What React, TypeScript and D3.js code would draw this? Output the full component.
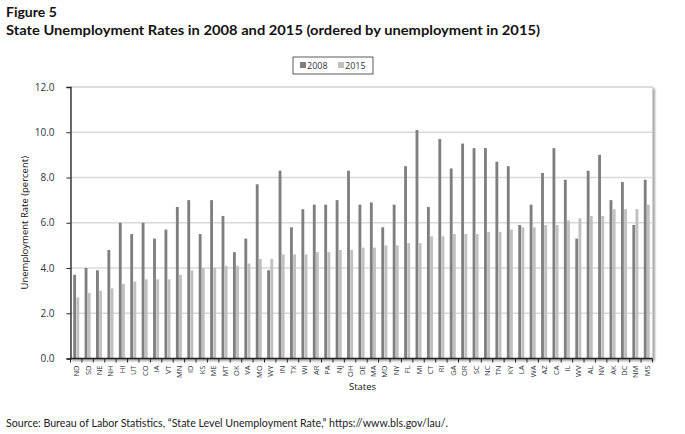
import { useRef, useEffect } from "react";
import * as d3 from "d3";

const states = ["ND","SD","NE","NH","HI","UT","CO","IA","VT","MN","ID","KS","ME","MT","OK","VA","MO","WY","IN","TX","WI","AR","PA","NJ","OH","DE","MA","MD","NY","FL","MI","CT","RI","GA","OR","SC","NC","TN","KY","LA","WA","AZ","CA","IL","WV","AL","NV","AK","DC","NM","MS"];

const rate2008 = [3.7,4.0,3.9,4.8,6.0,5.5,6.0,5.3,5.7,6.7,7.0,5.5,7.0,6.3,4.7,5.3,7.7,3.9,8.3,5.8,6.6,6.8,6.8,7.0,8.3,6.8,6.9,5.8,6.8,8.5,10.1,6.7,9.7,8.4,9.5,9.3,9.3,8.7,8.5,5.9,6.8,8.2,9.3,7.9,5.3,8.3,9.0,7.0,7.8,5.9,7.9];

const rate2015 = [2.7,2.9,3.0,3.1,3.3,3.4,3.5,3.5,3.5,3.7,3.9,4.0,4.0,4.1,4.1,4.2,4.4,4.4,4.6,4.6,4.6,4.7,4.7,4.8,4.8,4.9,4.9,5.0,5.0,5.1,5.1,5.4,5.4,5.5,5.5,5.5,5.6,5.6,5.7,5.8,5.8,5.9,5.9,6.1,6.2,6.3,6.3,6.6,6.6,6.6,6.8];

const series = ["2008", "2015"];
const colors = ["#7f7f7f", "#c0c0c0"];
const yTicks = [0, 2, 4, 6, 8, 10, 12];

export default function App() {
  const ref = useRef<SVGSVGElement>(null);

  useEffect(() => {
    if (!ref.current) return;
    const svg = d3.select(ref.current);
    svg.selectAll("*").remove();

    const W = 685, H = 434;
    const left = 70.5, right = 652.5, top = 87, bottom = 358.5;
    const font = "'Open Sans', sans-serif";
    const textColor = "#2e3440";

    svg.append("rect").attr("width", W).attr("height", H).attr("fill", "#fff");

    // titles
    svg.append("text").attr("x", 6).attr("y", 17).attr("font-family", "Lato, sans-serif")
      .attr("font-weight", 700).attr("font-size", 14).attr("fill", "#111").text("Figure 5");
    svg.append("text").attr("x", 6).attr("y", 35).attr("font-family", "Lato, sans-serif")
      .attr("font-weight", 700).attr("font-size", 14).attr("fill", "#111")
      .attr("textLength", 534).attr("lengthAdjust", "spacingAndGlyphs")
      .text("State Unemployment Rates in 2008 and 2015 (ordered by unemployment in 2015)");

    const x = d3.scaleBand().domain(states).range([left, right]).paddingInner(0);
    const xi = d3.scaleBand().domain(series).range([0, x.bandwidth()]).paddingInner(0.1).paddingOuter(0.85);
    const y = d3.scaleLinear().domain([0, 12]).range([bottom, top]);

    // plot frame shadow
    const defs = svg.append("defs");
    const f = defs.append("filter").attr("id", "sh").attr("x", "-5%").attr("y", "-5%").attr("width", "110%").attr("height", "110%");
    f.append("feDropShadow").attr("dx", 2).attr("dy", 2).attr("stdDeviation", 1.2).attr("flood-color", "#000").attr("flood-opacity", 0.35);
    svg.append("rect").attr("x", left).attr("y", top).attr("width", right - left).attr("height", bottom - top)
      .attr("fill", "#fff").attr("stroke", "#d0d0d0").attr("stroke-width", 1).attr("filter", "url(#sh)");

    // gridlines
    svg.append("g").selectAll("line").data(yTicks.slice(1)).join("line")
      .attr("x1", left).attr("x2", right).attr("y1", (d) => y(d)).attr("y2", (d) => y(d))
      .attr("stroke", "#d9d9d9").attr("stroke-width", 1.5);

    // bars
    const values = [rate2008, rate2015];
    series.forEach((s, si) => {
      svg.append("g").selectAll("rect").data(states).join("rect")
        .attr("x", (d) => x(d)! + xi(s)!)
        .attr("width", xi.bandwidth())
        .attr("y", (_, i) => y(values[si][i]))
        .attr("height", (_, i) => y(0) - y(values[si][i]))
        .attr("fill", colors[si]);
    });

    // y axis
    const ya = svg.append("g").attr("transform", `translate(${left},0)`)
      .call(d3.axisLeft(y).tickValues(yTicks).tickFormat(d3.format(".1f")).tickSize(4).tickPadding(12));
    ya.select(".domain").attr("stroke", "#222").attr("stroke-width", 1.3);
    ya.selectAll(".tick line").attr("stroke", "#222");
    ya.selectAll("text").attr("font-family", font).attr("font-size", 10).attr("fill", textColor);

    // x axis
    const xa = svg.append("g").attr("transform", `translate(0,${bottom})`);
    xa.append("line").attr("x1", left).attr("x2", right).attr("stroke", "#222").attr("stroke-width", 1.3);
    xa.selectAll("line.tk").data(states.concat("end")).join("line").attr("class", "tk")
      .attr("x1", (_, i) => left + i * x.step()).attr("x2", (_, i) => left + i * x.step())
      .attr("y1", 0).attr("y2", 4).attr("stroke", "#222");
    xa.selectAll("text").data(states).join("text")
      .attr("transform", (d) => `translate(${x(d)! + x.bandwidth() / 2 + 3},7) rotate(-90)`)
      .attr("text-anchor", "end").attr("font-family", font).attr("font-size", 7.5).attr("fill", textColor)
      .text((d) => d);

    // axis labels
    svg.append("text").attr("transform", `translate(28,${(top + bottom) / 2}) rotate(-90)`)
      .attr("text-anchor", "middle").attr("font-family", font).attr("font-size", 9.5).attr("fill", "#111")
      .text("Unemployment Rate (percent)");
    svg.append("text").attr("x", (left + right) / 2 + 1).attr("y", 390).attr("text-anchor", "middle")
      .attr("font-family", font).attr("font-size", 9.5).attr("fill", "#111").text("States");

    // legend
    const lg = svg.append("g").attr("transform", "translate(293,57)");
    lg.append("rect").attr("width", 80).attr("height", 17).attr("fill", "#fff").attr("stroke", "#333").attr("stroke-width", 0.8);
    series.forEach((s, i) => {
      const gx = 7 + i * 38;
      lg.append("rect").attr("x", gx).attr("y", 5).attr("width", 6).attr("height", 6).attr("fill", colors[i]);
      lg.append("text").attr("x", gx + 7).attr("y", 12).attr("font-family", font).attr("font-size", 9)
        .attr("fill", textColor).text(s);
    });

    // source
    svg.append("text").attr("x", 6).attr("y", 427).attr("font-family", "Lato, sans-serif").attr("font-size", 10.5)
      .attr("fill", "#222").attr("textLength", 442).attr("lengthAdjust", "spacingAndGlyphs")
      .text("Source: Bureau of Labor Statistics, \u201cState Level Unemployment Rate,\u201d https://www.bls.gov/lau/.");
  }, []);

  return (
    <svg ref={ref} width={685} height={434} style={{ position: "absolute", left: 0, top: 0, display: "block" }} />
  );
}
